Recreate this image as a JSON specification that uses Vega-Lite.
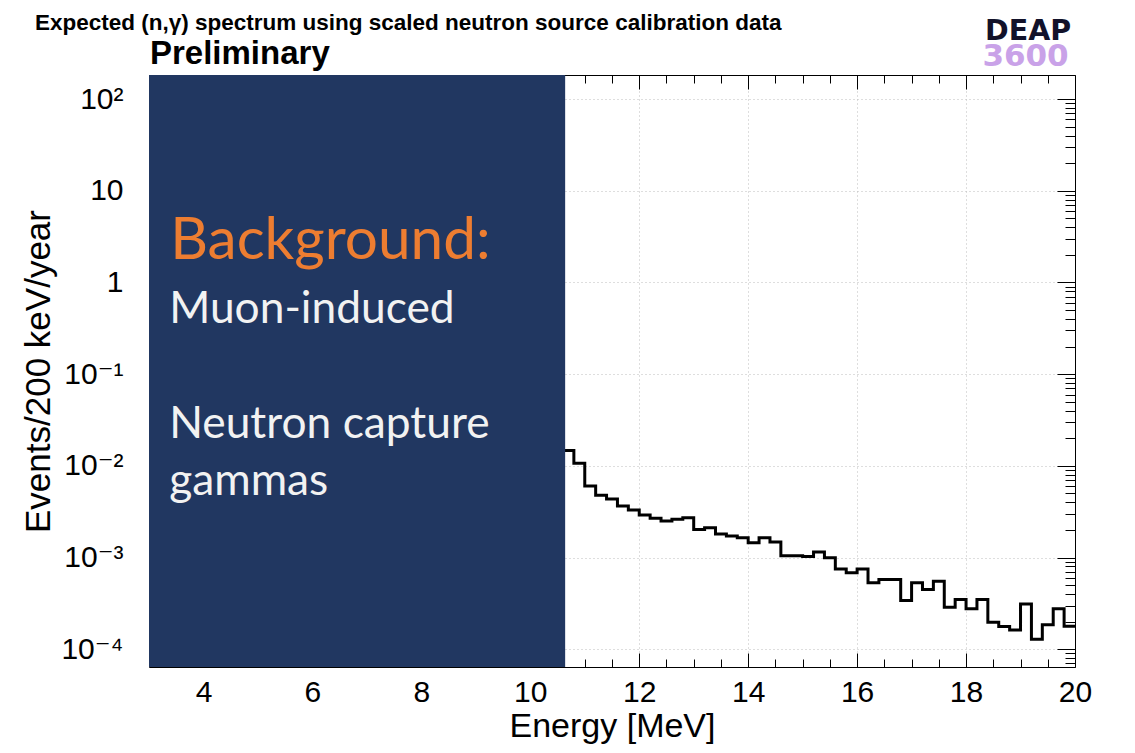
{
  "$schema": "https://vega.github.io/schema/vega-lite/v6.json",
  "width": 926,
  "height": 592,
  "autosize": {"type": "none"},
  "padding": {"left": 149, "top": 75, "right": 60, "bottom": 86},
  "background": "white",
  "config": {
    "view": {"stroke": null},
    "font": "Liberation Sans, Arial, DejaVu Sans",
    "axis": {"zindex": 0, "domainColor": "black", "tickColor": "black", "labelColor": "black", "titleColor": "black", "titleFontWeight": "normal", "labelFont": "Liberation Sans, DejaVu Sans", "titleFont": "Liberation Sans, DejaVu Sans"}
  },
  "datasets": {
    "hist": [
      {"E": 10.6, "v": 0.0147},
      {"E": 10.8, "v": 0.0107},
      {"E": 11.0, "v": 0.00604},
      {"E": 11.2, "v": 0.00478},
      {"E": 11.4, "v": 0.00436},
      {"E": 11.6, "v": 0.00365},
      {"E": 11.8, "v": 0.00331},
      {"E": 12.0, "v": 0.00291},
      {"E": 12.2, "v": 0.00268},
      {"E": 12.4, "v": 0.00250},
      {"E": 12.6, "v": 0.00261},
      {"E": 12.8, "v": 0.00272},
      {"E": 13.0, "v": 0.00203},
      {"E": 13.2, "v": 0.00212},
      {"E": 13.4, "v": 0.00181},
      {"E": 13.6, "v": 0.00172},
      {"E": 13.8, "v": 0.00165},
      {"E": 14.0, "v": 0.00145},
      {"E": 14.2, "v": 0.00165},
      {"E": 14.4, "v": 0.00148},
      {"E": 14.6, "v": 0.00105},
      {"E": 14.8, "v": 0.00105},
      {"E": 15.0, "v": 0.00103},
      {"E": 15.2, "v": 0.00115},
      {"E": 15.4, "v": 0.000995},
      {"E": 15.6, "v": 0.000749},
      {"E": 15.8, "v": 0.000682},
      {"E": 16.0, "v": 0.000749},
      {"E": 16.2, "v": 0.000533},
      {"E": 16.4, "v": 0.000575},
      {"E": 16.6, "v": 0.000575},
      {"E": 16.8, "v": 0.000340},
      {"E": 17.0, "v": 0.000533},
      {"E": 17.2, "v": 0.000449},
      {"E": 17.4, "v": 0.000553},
      {"E": 17.6, "v": 0.000288},
      {"E": 17.8, "v": 0.000348},
      {"E": 18.0, "v": 0.000277},
      {"E": 18.2, "v": 0.000348},
      {"E": 18.4, "v": 0.000197},
      {"E": 18.6, "v": 0.000177},
      {"E": 18.8, "v": 0.000162},
      {"E": 19.0, "v": 0.000312},
      {"E": 19.2, "v": 0.000129},
      {"E": 19.4, "v": 0.000185},
      {"E": 19.6, "v": 0.000277},
      {"E": 19.8, "v": 0.000178},
      {"E": 20.0, "v": 0.000178}
    ]
  },
  "resolve": {"axis": {"x": "independent", "y": "independent"}},
  "layer": [
    {
      "data": {"name": "hist"},
      "mark": {"type": "line", "interpolate": "step-after", "color": "black", "strokeWidth": 3},
      "encoding": {
        "x": {
          "field": "E", "type": "quantitative",
          "scale": {"domain": [3, 20], "nice": false, "zero": false},
          "axis": {
            "orient": "bottom", "values": [4, 6, 8, 10, 12, 14, 16, 18, 20],
            "ticks": false, "domain": true, "grid": true, "gridColor": "#bdbdbd", "gridDash": [1, 3],
            "labelFontSize": 30, "labelPadding": 10, "labelFlush": false, "labelOverlap": false,
            "title": "Energy [MeV]", "titleFontSize": 34, "titlePadding": 2, "titleAnchor": "middle"
          }
        },
        "y": {
          "field": "v", "type": "quantitative",
          "scale": {"type": "log", "domain": [6.41e-5, 182.8], "nice": false},
          "axis": {
            "orient": "left", "values": [0.0001, 0.001, 0.01, 0.1, 1, 10, 100],
            "ticks": false, "domain": true, "grid": true, "gridColor": "#bdbdbd", "gridDash": [1, 3],
            "labelFontSize": 30, "labelPadding": 26, "labelOverlap": false, "labelFlush": false,
            "labelExpr": "round(log(datum.value)/LN10) == 2 ? '10²' : round(log(datum.value)/LN10) == 1 ? '10' : round(log(datum.value)/LN10) == 0 ? '1' : '10⁻' + ['', '¹', '²', '³', '⁴'][-round(log(datum.value)/LN10)]",
            "title": "Events/200 keV/year", "titleFontSize": 35, "titlePadding": 4
          }
        }
      }
    },
    {
      "data": {"values": [{}]},
      "mark": {"type": "rect", "color": "#213761"},
      "encoding": {
        "x": {
          "datum": 3, "type": "quantitative",
          "scale": {"domain": [3, 20], "nice": false, "zero": false},
          "axis": {"orient": "top", "values": [4, 6, 8, 10, 12, 14, 16, 18, 20], "labels": false, "tickSize": -14, "domain": true, "grid": false, "title": null}
        },
        "x2": {"datum": 10.64},
        "y": {
          "datum": 6.41e-5, "type": "quantitative",
          "scale": {"type": "log", "domain": [6.41e-5, 182.8], "nice": false},
          "axis": {"orient": "right", "values": [0.0001, 0.001, 0.01, 0.1, 1, 10, 100], "labels": false, "tickSize": -18, "domain": true, "grid": false, "title": null}
        },
        "y2": {"datum": 182.8}
      }
    },
    {
      "data": {"values": [{}]},
      "mark": {"type": "text", "text": "Background:", "align": "left", "baseline": "alphabetic", "font": "Lato", "fontSize": 58.5, "color": "#ED7D31"},
      "encoding": {
        "x": {
          "datum": 3.39, "type": "quantitative",
          "scale": {"domain": [3, 20], "nice": false, "zero": false},
          "axis": {"orient": "bottom", "values": [4, 6, 8, 10, 12, 14, 16, 18, 20], "labels": false, "tickSize": -14, "domain": false, "grid": false, "title": null}
        },
        "y": {
          "datum": 1.816, "type": "quantitative",
          "scale": {"type": "log", "domain": [6.41e-5, 182.8], "nice": false},
          "axis": {"orient": "right", "values": [7e-5, 8e-5, 9e-5, 2e-4, 3e-4, 4e-4, 5e-4, 6e-4, 7e-4, 8e-4, 9e-4, 2e-3, 3e-3, 4e-3, 5e-3, 6e-3, 7e-3, 8e-3, 9e-3, 2e-2, 3e-2, 4e-2, 5e-2, 6e-2, 7e-2, 8e-2, 9e-2, 0.2, 0.3, 0.4, 0.5, 0.6, 0.7, 0.8, 0.9, 2, 3, 4, 5, 6, 7, 8, 9, 20, 30, 40, 50, 60, 70, 80, 90], "labels": false, "tickSize": -10, "domain": false, "grid": false, "title": null}
        }
      }
    },
    {
      "data": {"values": [{}]},
      "mark": {"type": "text", "text": "Muon-induced", "align": "left", "baseline": "alphabetic", "font": "Lato", "fontSize": 44.3, "color": "#F2F2F2"},
      "encoding": {
        "x": {
          "datum": 3.37, "type": "quantitative",
          "scale": {"domain": [3, 20], "nice": false, "zero": false},
          "axis": {"orient": "bottom", "values": [3.5, 4.5, 5, 5.5, 6.5, 7, 7.5, 8.5, 9, 9.5, 10.5, 11, 11.5, 12.5, 13, 13.5, 14.5, 15, 15.5, 16.5, 17, 17.5, 18.5, 19, 19.5], "labels": false, "tickSize": -8, "domain": false, "grid": false, "title": null}
        },
        "y": {
          "datum": 0.3638, "type": "quantitative",
          "scale": {"type": "log", "domain": [6.41e-5, 182.8], "nice": false},
          "axis": null
        }
      }
    },
    {
      "data": {"values": [{}]},
      "mark": {"type": "text", "text": "Neutron capture", "align": "left", "baseline": "alphabetic", "font": "Lato", "fontSize": 44.3, "color": "#F2F2F2"},
      "encoding": {
        "x": {
          "datum": 3.37, "type": "quantitative",
          "scale": {"domain": [3, 20], "nice": false, "zero": false},
          "axis": {"orient": "top", "values": [3.5, 4.5, 5, 5.5, 6.5, 7, 7.5, 8.5, 9, 9.5, 10.5, 11, 11.5, 12.5, 13, 13.5, 14.5, 15, 15.5, 16.5, 17, 17.5, 18.5, 19, 19.5], "labels": false, "tickSize": -8, "domain": false, "grid": false, "title": null}
        },
        "y": {
          "datum": 0.02022, "type": "quantitative",
          "scale": {"type": "log", "domain": [6.41e-5, 182.8], "nice": false},
          "axis": null
        }
      }
    },
    {
      "data": {"values": [{}]},
      "mark": {"type": "text", "text": "gammas", "align": "left", "baseline": "alphabetic", "font": "Lato", "fontSize": 44.3, "color": "#F2F2F2"},
      "encoding": {
        "x": {"datum": 3.37, "type": "quantitative", "scale": {"domain": [3, 20], "nice": false, "zero": false}, "axis": null},
        "y": {"datum": 0.00483, "type": "quantitative", "scale": {"type": "log", "domain": [6.41e-5, 182.8], "nice": false}, "axis": null}
      }
    },
    {
      "data": {"values": [{}]},
      "mark": {"type": "text", "text": "Expected (n,γ) spectrum using scaled neutron source calibration data", "align": "left", "baseline": "alphabetic", "font": "Liberation Sans, DejaVu Sans", "fontWeight": "bold", "fontSize": 22.5, "color": "black"},
      "encoding": {
        "x": {"datum": 0.907, "type": "quantitative", "scale": {"domain": [3, 20], "nice": false, "zero": false}, "axis": null},
        "y": {"datum": 565, "type": "quantitative", "scale": {"type": "log", "domain": [6.41e-5, 182.8], "nice": false}, "axis": null}
      }
    },
    {
      "data": {"values": [{}]},
      "mark": {"type": "text", "text": "Preliminary", "align": "left", "baseline": "alphabetic", "font": "Liberation Sans", "fontWeight": "bold", "fontSize": 33, "color": "black"},
      "encoding": {
        "x": {"datum": 3.018, "type": "quantitative", "scale": {"domain": [3, 20], "nice": false, "zero": false}, "axis": null},
        "y": {"datum": 243.8, "type": "quantitative", "scale": {"type": "log", "domain": [6.41e-5, 182.8], "nice": false}, "axis": null}
      }
    },
    {
      "data": {"values": [{}]},
      "mark": {"type": "text", "text": "DEAP", "align": "left", "baseline": "alphabetic", "font": "DejaVu Sans", "fontWeight": "bold", "fontSize": 28.5, "color": "#12122A"},
      "encoding": {
        "x": {"datum": 18.348, "type": "quantitative", "scale": {"domain": [3, 20], "nice": false, "zero": false}, "axis": null},
        "y": {"datum": 440, "type": "quantitative", "scale": {"type": "log", "domain": [6.41e-5, 182.8], "nice": false}, "axis": null}
      }
    },
    {
      "data": {"values": [{}]},
      "mark": {"type": "text", "text": "3600", "align": "left", "baseline": "alphabetic", "font": "DejaVu Sans", "fontWeight": "bold", "fontSize": 31, "color": "#C9A2E8"},
      "encoding": {
        "x": {"datum": 18.3, "type": "quantitative", "scale": {"domain": [3, 20], "nice": false, "zero": false}, "axis": null},
        "y": {"datum": 232, "type": "quantitative", "scale": {"type": "log", "domain": [6.41e-5, 182.8], "nice": false}, "axis": null}
      }
    }
  ]
}
